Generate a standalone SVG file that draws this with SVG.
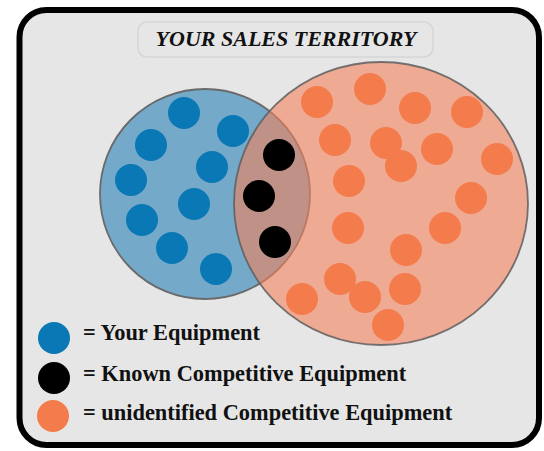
<svg xmlns="http://www.w3.org/2000/svg" width="544" height="451" viewBox="0 0 544 451">
  <style>
    .frame { fill: #e6e6e6; stroke: #000; stroke-width: 6; }
    .titlebox { fill: #e6e6e6; stroke: #d6d6d6; stroke-width: 1.5; }
    .title { font-family: "Liberation Serif", "Times New Roman", serif; font-weight: bold; font-style: italic; font-size: 22px; fill: #111; }
    .legend { font-family: "Liberation Serif", "Times New Roman", serif; font-weight: bold; font-size: 22.4px; fill: #111; }
    .blueSet { fill: #74a9c9; stroke: #6a6a6a; stroke-width: 1.8; }
    .orangeSet { fill: #f4825c; fill-opacity: 0.6; stroke: #5e5e5e; stroke-width: 1.8; stroke-opacity: 0.85; }
    .b { fill: #0a78b4; }
    .k { fill: #000; }
    .o { fill: #f47c4c; }
  </style>
  <rect class="frame" x="19.5" y="10" width="519.5" height="435" rx="27"/>
  <g id="title">
    <rect class="titlebox" x="138" y="22" width="295" height="35" rx="9"/>
    <text class="title" x="286" y="46" text-anchor="middle">YOUR SALES TERRITORY</text>
  </g>
  <g id="your-set">
    <circle class="blueSet" cx="205" cy="194" r="105"/>
    <circle class="b" cx="184" cy="113" r="16"/>
    <circle class="b" cx="233" cy="131" r="16"/>
    <circle class="b" cx="151" cy="145" r="16"/>
    <circle class="b" cx="212" cy="167" r="16"/>
    <circle class="b" cx="131" cy="180" r="16"/>
    <circle class="b" cx="194" cy="204" r="16"/>
    <circle class="b" cx="142" cy="220" r="16"/>
    <circle class="b" cx="172" cy="248" r="16"/>
    <circle class="b" cx="216" cy="269" r="16"/>
  </g>
  <g id="competitive-set">
    <ellipse class="orangeSet" cx="381" cy="203.5" rx="147" ry="141.5"/>
    <circle class="o" cx="317" cy="102" r="16"/>
    <circle class="o" cx="370" cy="89" r="16"/>
    <circle class="o" cx="415" cy="108" r="16"/>
    <circle class="o" cx="467" cy="112" r="16"/>
    <circle class="o" cx="335" cy="140" r="16"/>
    <circle class="o" cx="386" cy="143" r="16"/>
    <circle class="o" cx="401" cy="166" r="16"/>
    <circle class="o" cx="437" cy="149" r="16"/>
    <circle class="o" cx="497" cy="159" r="16"/>
    <circle class="o" cx="349" cy="181" r="16"/>
    <circle class="o" cx="471" cy="198" r="16"/>
    <circle class="o" cx="348" cy="228" r="16"/>
    <circle class="o" cx="445" cy="228" r="16"/>
    <circle class="o" cx="406" cy="250" r="16"/>
    <circle class="o" cx="340" cy="279" r="16"/>
    <circle class="o" cx="365" cy="297" r="16"/>
    <circle class="o" cx="405" cy="289" r="16"/>
    <circle class="o" cx="302" cy="299" r="16"/>
    <circle class="o" cx="388" cy="325" r="16"/>
  </g>
  <g id="known-competitive">
    <circle class="k" cx="279" cy="155" r="16"/>
    <circle class="k" cx="259" cy="196" r="16"/>
    <circle class="k" cx="275" cy="242" r="16"/>
  </g>
  <g id="connectors"></g>
  <g id="legend-your">
    <circle class="b" cx="54" cy="338" r="16"/>
    <text class="legend" x="83" y="340">= Your Equipment</text>
  </g>
  <g id="legend-known">
    <circle class="k" cx="54" cy="378" r="16"/>
    <text class="legend" x="83" y="381">= Known Competitive Equipment</text>
  </g>
  <g id="legend-unidentified">
    <circle class="o" cx="53" cy="416" r="16"/>
    <text class="legend" x="83" y="420">= unidentified Competitive Equipment</text>
  </g>
</svg>
